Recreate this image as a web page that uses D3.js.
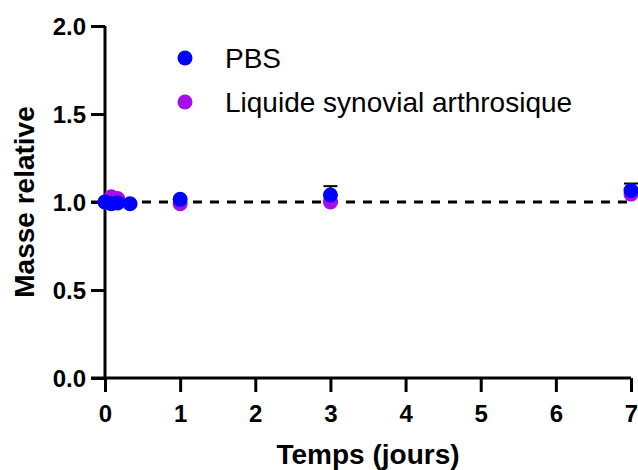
<!DOCTYPE html>
<html>
<head>
<meta charset="utf-8">
<script src="https://cdn.jsdelivr.net/npm/d3@7"></script>
<style>
  html, body { margin: 0; padding: 0; background: #fff; }
  svg { display: block; }
</style>
</head>
<body>
<svg id="chart" width="638" height="470"></svg>
<script>
// ---- Data ----
const seriesNames = ["PBS", "Liquide synovial arthrosique"];
const seriesColors = ["#0000ff", "#a50ee8"];
const pbsTime = [0, 0.0833, 0.1667, 0.3333, 1, 3, 7];
const pbsMass = [1.0, 0.99, 0.995, 0.99, 1.015, 1.04, 1.065];
const pbsErr = [0.005, 0.005, 0.005, 0.005, 0.01, 0.05, 0.04];
const lsaTime = [0, 0.0833, 0.1667, 1, 3, 7];
const lsaMass = [1.0, 1.03, 1.02, 0.99, 1.0, 1.045];
const lsaErr = [0.005, 0.01, 0.01, 0.005, 0.01, 0.01];
const xTicks = [0, 1, 2, 3, 4, 5, 6, 7];
const yTicks = [0.0, 0.5, 1.0, 1.5, 2.0];
const xLabel = "Temps (jours)";
const yLabel = "Masse relative";

// ---- Layout ----
const svg = d3.select("#chart");
const x = d3.scaleLinear().domain([0, 7]).range([105, 631]);
const y = d3.scaleLinear().domain([0, 2]).range([378, 26]);
const font = "'Liberation Sans', Arial, sans-serif";

// Reference dashed line at 1.0
svg.append("line")
  .attr("x1", x(0) - 14).attr("x2", x(7))
  .attr("y1", y(1)).attr("y2", y(1))
  .attr("stroke", "#000").attr("stroke-width", 3)
  .attr("stroke-dasharray", "9,8");

// Axes
const xAxis = d3.axisBottom(x).tickValues(xTicks).tickFormat(d3.format("d")).tickSize(14).tickPadding(13).tickSizeOuter(0);
const yAxis = d3.axisLeft(y).tickValues(yTicks).tickFormat(d3.format(".1f")).tickSize(14).tickPadding(5).tickSizeOuter(0);

const gx = svg.append("g").attr("transform", `translate(0,${y(0)})`).call(xAxis);
const gy = svg.append("g").attr("transform", `translate(${x(0)},0)`).call(yAxis);

[gx, gy].forEach(g => {
  g.select(".domain").attr("stroke", "#000").attr("stroke-width", 3);
  g.selectAll(".tick line").attr("stroke", "#000").attr("stroke-width", 3);
  g.selectAll(".tick text")
    .attr("font-family", font).attr("font-weight", "bold")
    .attr("font-size", 24).attr("fill", "#000");
});
gx.select(".domain").attr("d", `M${x(0) - 14},0H${x(7)}`);
gy.select(".domain").attr("d", `M0,${y(2)}V${y(0)}`);
gy.selectAll(".tick text").attr("dy", "0.36em");
gx.selectAll(".tick text").attr("dy", "0.71em");

// Axis titles
svg.append("text")
  .attr("x", 368).attr("y", 464)
  .attr("text-anchor", "middle")
  .attr("font-family", font).attr("font-weight", "bold").attr("font-size", 28)
  .text(xLabel);
svg.append("text")
  .attr("transform", `translate(34,${y(1)}) rotate(-90)`)
  .attr("text-anchor", "middle")
  .attr("font-family", font).attr("font-weight", "bold").attr("font-size", 28)
  .text(yLabel);

// Series drawing
function drawSeries(times, masses, errs, color) {
  const g = svg.append("g");
  times.forEach((t, i) => {
    const cx = x(t);
    const top = y(masses[i] + errs[i]);
    const cy = y(masses[i]);
    g.append("line").attr("x1", cx).attr("x2", cx).attr("y1", top).attr("y2", cy)
      .attr("stroke", "#000").attr("stroke-width", 2);
    g.append("line").attr("x1", cx - 7).attr("x2", cx + 7).attr("y1", top).attr("y2", top)
      .attr("stroke", "#000").attr("stroke-width", 2);
  });
  g.selectAll("circle").data(times).enter().append("circle")
    .attr("cx", d => x(d))
    .attr("cy", (d, i) => y(masses[i]))
    .attr("r", 7.5)
    .attr("fill", color);
}
drawSeries(lsaTime, lsaMass, lsaErr, seriesColors[1]);
drawSeries(pbsTime, pbsMass, pbsErr, seriesColors[0]);

// Legend
const legendY = [58, 102];
seriesNames.forEach((name, i) => {
  svg.append("circle").attr("cx", 185).attr("cy", legendY[i]).attr("r", 7.5).attr("fill", seriesColors[i]);
  svg.append("text").attr("x", 225).attr("y", legendY[i])
    .attr("dy", "0.36em")
    .attr("font-family", font).attr("font-size", 28).attr("fill", "#000")
    .text(name);
});
</script>
</body>
</html>
